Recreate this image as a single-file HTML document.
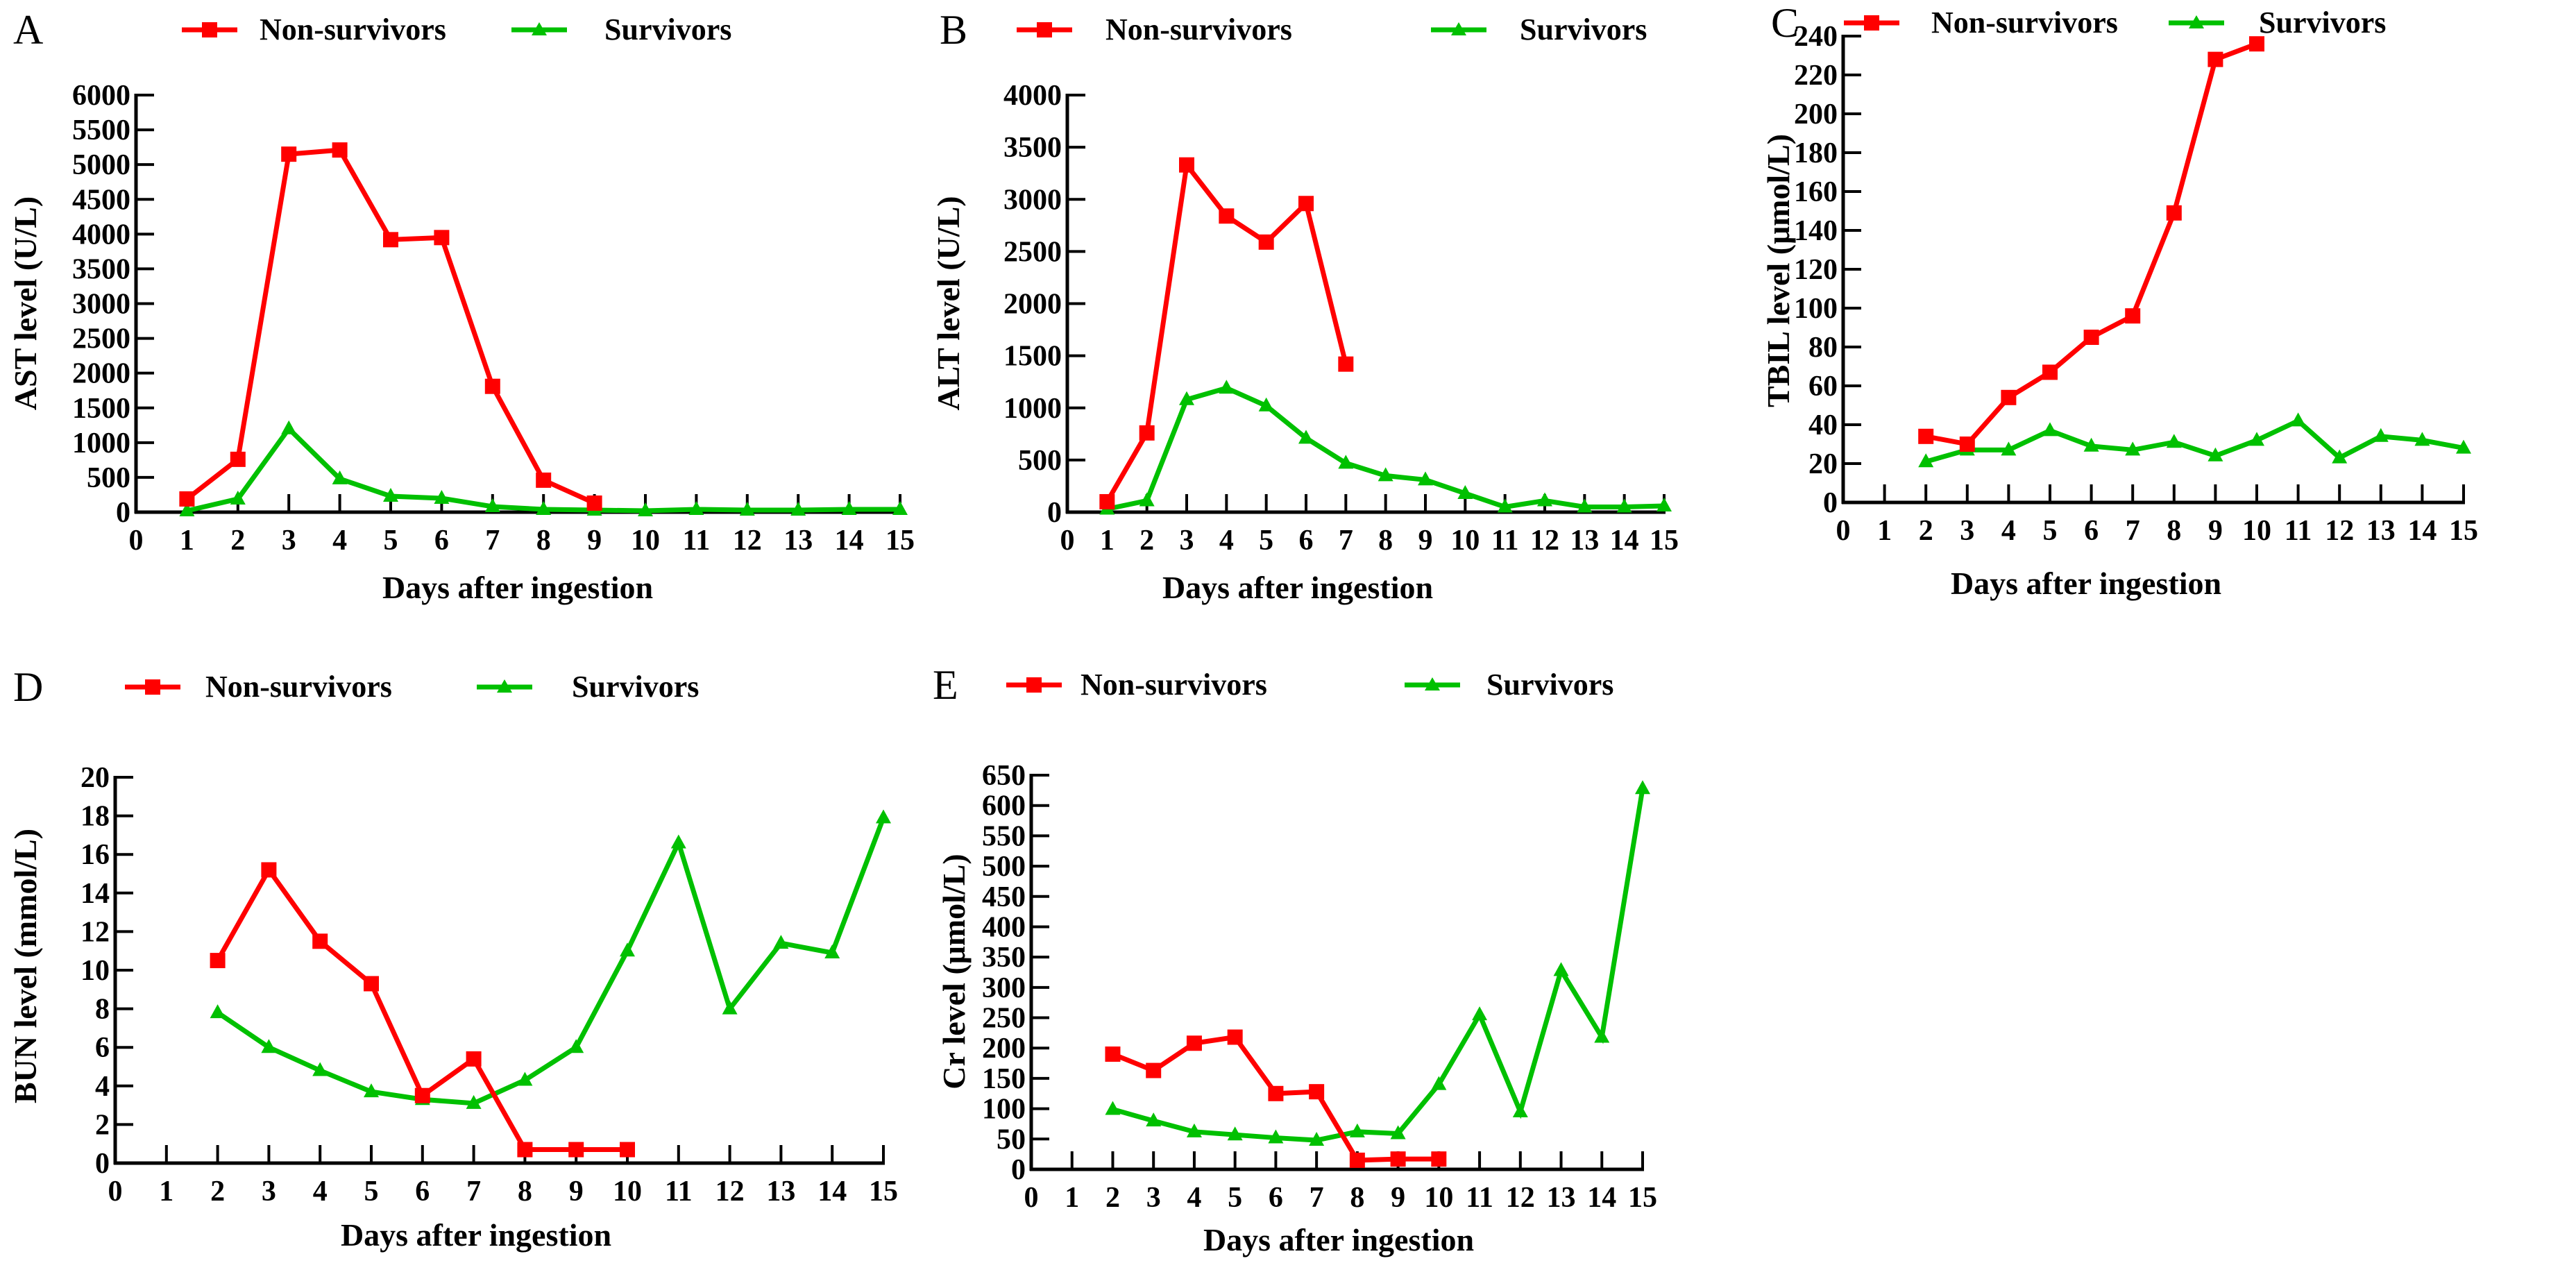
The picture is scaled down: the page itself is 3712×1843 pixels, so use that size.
<!DOCTYPE html>
<html><head><meta charset="utf-8"><style>
html,body{margin:0;padding:0;background:#fff;}
svg, svg text{font-family:"Liberation Serif","Times New Roman","DejaVu Serif",serif;}
</style></head>
<body>
<svg id="fig" width="3712" height="1838" viewBox="0 0 3712 1838" xmlns="http://www.w3.org/2000/svg" font-family="Liberation Serif, DejaVu Serif, serif"></svg>
<script>
// ---- data ----
const days = [0,1,2,3,4,5,6,7,8,9,10,11,12,13,14,15];
const astNonDays = [1,2,3,4,5,6,7,8,9];
const astNon = [190,760,5150,5210,3920,3950,1810,460,130];
const astSurDays = [1,2,3,4,5,6,7,8,9,10,11,12,13,14,15];
const astSur = [20,190,1200,480,230,200,80,40,30,20,40,30,30,40,40];
const astTicks = [0,500,1000,1500,2000,2500,3000,3500,4000,4500,5000,5500,6000];

const altNonDays = [1,2,3,4,5,6,7];
const altNon = [100,760,3330,2840,2590,2960,1420];
const altSurDays = [1,2,3,4,5,6,7,8,9,10,11,12,13,14,15];
const altSur = [30,110,1080,1190,1020,710,470,350,310,180,50,110,50,50,60];
const altTicks = [0,500,1000,1500,2000,2500,3000,3500,4000];

const tbilNonDays = [2,3,4,5,6,7,8,9,10];
const tbilNon = [34,30,54,67,85,96,149,228,236];
const tbilSurDays = [2,3,4,5,6,7,8,9,10,11,12,13,14,15];
const tbilSur = [21,27,27,37,29,27,31,24,32,42,23,34,32,28];
const tbilTicks = [0,20,40,60,80,100,120,140,160,180,200,220,240];

const bunNonDays = [2,3,4,5,6,7,8,9,10];
const bunNon = [10.5,15.2,11.5,9.3,3.5,5.4,0.7,0.7,0.7];
const bunSurDays = [2,3,4,5,6,7,8,9,10,11,12,13,14,15];
const bunSur = [7.8,6.0,4.8,3.7,3.3,3.1,4.3,6.0,11.0,16.6,8.0,11.4,10.9,17.9];
const bunTicks = [0,2,4,6,8,10,12,14,16,18,20];

const crNonDays = [2,3,4,5,6,7,8,9,10];
const crNon = [190,163,208,218,125,128,15,17,17];
const crSurDays = [2,3,4,5,6,7,8,9,10,11,12,13,14,15];
const crSur = [99,80,62,57,52,48,62,59,140,255,95,328,218,628];
const crTicks = [0,50,100,150,200,250,300,350,400,450,500,550,600,650];

const NS = "http://www.w3.org/2000/svg";
const svg = document.getElementById('fig');
const FONT = '"Liberation Serif", "DejaVu Serif", serif';
function mk(tag, attrs, parent){
  const e = document.createElementNS(NS, tag);
  for (const k in attrs) e.setAttribute(k, attrs[k]);
  if (tag === 'text') e.style.fontFamily = FONT;
  (parent||svg).appendChild(e);
  return e;
}

function panel(cfg){
  const g = mk('g', {});
  
  
  const ymax = cfg.ticks[cfg.ticks.length-1];
  const X = d => cfg.x0 + (cfg.x15 - cfg.x0) * d / 15;
  const Y = v => cfg.y0 - (cfg.y0 - cfg.yTop) * v / ymax;

  const L = mk('text', {x: cfg.lx, y: cfg.ly + 20, 'font-size': 60, fill: '#000'}, g);
  L.textContent = cfg.letter;
  
  

  const lg = mk('g', {}, g);
  
  
  const e1 = mk('g', {}, lg);
  
  
  mk('line', {x1: cfg.leg[0], x2: cfg.leg[0] + 80, y1: cfg.ly, y2: cfg.ly, stroke: '#ff0000', 'stroke-width': 7}, e1);
  mk('rect', {x: cfg.leg[0] + 29, y: cfg.ly - 11, width: 22, height: 22, fill: '#ff0000'}, e1);
  const t1 = mk('text', {x: cfg.leg[1], y: cfg.ly + 14, 'font-size': 44, 'font-weight': 'bold', fill: '#000'}, e1);
  t1.textContent = 'Non-survivors';
  const e2 = mk('g', {}, lg);
  
  
  mk('line', {x1: cfg.leg[2], x2: cfg.leg[2] + 80, y1: cfg.ly, y2: cfg.ly, stroke: '#00c000', 'stroke-width': 7}, e2);
  const cx = cfg.leg[2] + 40;
  mk('polygon', {points: `${cx},${cfg.ly-11} ${cx-11},${cfg.ly+8} ${cx+11},${cfg.ly+8}`, fill: '#00c000'}, e2);
  const t2 = mk('text', {x: cfg.leg[3], y: cfg.ly + 14, 'font-size': 44, 'font-weight': 'bold', fill: '#000'}, e2);
  t2.textContent = 'Survivors';

  const ya = mk('g', {}, g);
  
  
  mk('line', {x1: cfg.x0, x2: cfg.x0, y1: cfg.yTop - 2, y2: cfg.y0 + 2, stroke: '#000', 'stroke-width': 5}, ya);
  cfg.ticks.forEach(v => {
    mk('line', {x1: cfg.x0, x2: cfg.x0 + 26, y1: Y(v), y2: Y(v), stroke: '#000', 'stroke-width': 4}, ya);
    const t = mk('text', {x: cfg.x0 - 8, y: Y(v) + 14, 'font-size': 42, 'font-weight': 'bold', 'text-anchor': 'end', fill: '#000'}, ya);
    t.textContent = v;
  });
  const yt = mk('text', {x: cfg.ytx, y: cfg.yty, 'font-size': 46, 'font-weight': 'bold', 'text-anchor': 'middle', fill: '#000', transform: `rotate(-90 ${cfg.ytx} ${cfg.yty})`}, g);
  yt.textContent = cfg.ytitle;
  
  

  const xa = mk('g', {}, g);
  
  
  mk('line', {x1: cfg.x0 - 2, x2: cfg.x15 + 2, y1: cfg.y0, y2: cfg.y0, stroke: '#000', 'stroke-width': 5}, xa);
  days.forEach(d => {
    if (d > 0) mk('line', {x1: X(d), x2: X(d), y1: cfg.y0, y2: cfg.y0 - 26, stroke: '#000', 'stroke-width': 4}, xa);
    const t = mk('text', {x: X(d), y: cfg.y0 + 54, 'font-size': 42, 'font-weight': 'bold', 'text-anchor': 'middle', fill: '#000'}, xa);
    t.textContent = d;
  });
  const xt = mk('text', {x: cfg.xtx, y: cfg.xty, 'font-size': 46, 'font-weight': 'bold', 'text-anchor': 'middle', fill: '#000'}, g);
  xt.textContent = 'Days after ingestion';
  
  

  function series(ds, vs, color, name, marker){
    const sg = mk('g', {}, g);
    
    
    const pts = ds.map((d, i) => X(d) + ',' + Y(vs[i])).join(' ');
    mk('polyline', {points: pts, fill: 'none', stroke: color, 'stroke-width': 7, 'stroke-linejoin': 'miter'}, sg);
    ds.forEach((d, i) => {
      const px = X(d), py = Y(vs[i]);
      let m;
      if (marker === 'square') m = mk('rect', {x: px - 11, y: py - 11, width: 22, height: 22, fill: color}, sg);
      else m = mk('polygon', {points: `${px},${py-12} ${px-11},${py+8} ${px+11},${py+8}`, fill: color}, sg);
      
      
    });
  }
  series(cfg.sd, cfg.sv, '#00c000', 'survivors-line', 'tri');
  series(cfg.nd, cfg.nv, '#ff0000', 'non-survivors-line', 'square');
}

panel({letter:'A', lx:19, ly:43, leg:[262,374,737,871], x0:196, x15:1297, y0:738, yTop:137, ticks:astTicks,
  ytitle:'AST level (U/L)', ytx:52, yty:437, xtx:746, xty:862, nd:astNonDays, nv:astNon, sd:astSurDays, sv:astSur});
panel({letter:'B', lx:1354, ly:43, leg:[1465,1593,2062,2190], x0:1538, x15:2398, y0:738, yTop:137, ticks:altTicks,
  ytitle:'ALT level (U/L)', ytx:1382, yty:437, xtx:1870, xty:862, nd:altNonDays, nv:altNon, sd:altSurDays, sv:altSur});
panel({letter:'C', lx:2552, ly:33, leg:[2657,2783,3125,3255], x0:2656, x15:3550, y0:724, yTop:52, ticks:tbilTicks,
  ytitle:'TBIL level (μmol/L)', ytx:2578, yty:390, xtx:3006, xty:856, nd:tbilNonDays, nv:tbilNon, sd:tbilSurDays, sv:tbilSur});
panel({letter:'D', lx:19, ly:990, leg:[180,296,687,824], x0:166, x15:1273, y0:1676, yTop:1120, ticks:bunTicks,
  ytitle:'BUN level (mmol/L)', ytx:52, yty:1392, xtx:686, xty:1795, nd:bunNonDays, nv:bunNon, sd:bunSurDays, sv:bunSur});
panel({letter:'E', lx:1344, ly:987, leg:[1450,1557,2024,2142], x0:1486, x15:2367, y0:1685, yTop:1117, ticks:crTicks,
  ytitle:'Cr  level (μmol/L)', ytx:1390, yty:1400, xtx:1929, xty:1802, nd:crNonDays, nv:crNon, sd:crSurDays, sv:crSur});
</script>
</body></html>
